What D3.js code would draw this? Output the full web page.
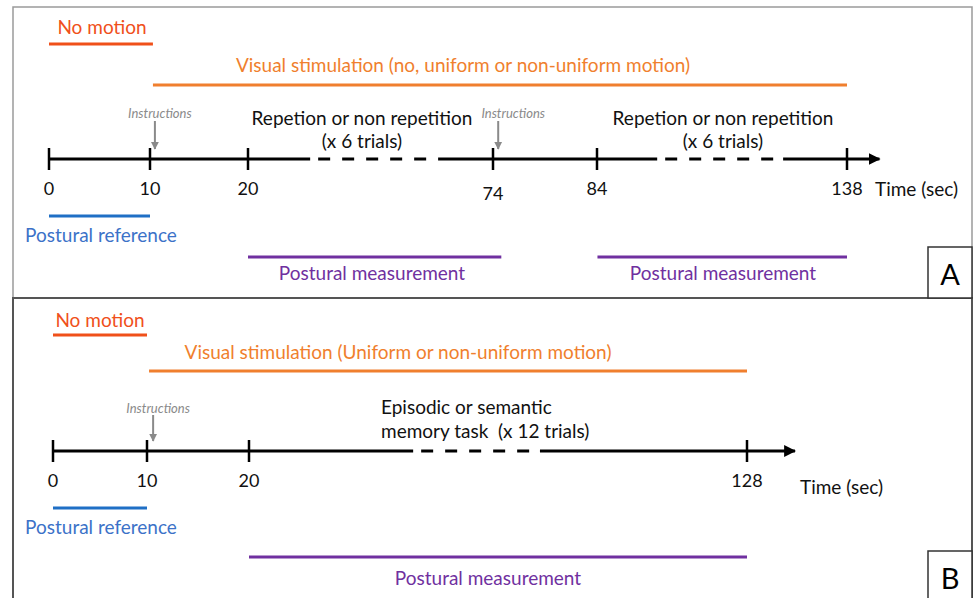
<!DOCTYPE html>
<html>
<head>
<meta charset="utf-8">
<script src="https://cdn.jsdelivr.net/npm/d3@7"></script>
<style>
html,body{margin:0;padding:0;background:#fff;}
svg{display:block;font-family:Lato, "Open Sans", sans-serif;}
</style>
</head>
<body>
<svg id="chart" width="974" height="598"></svg>
<script>
// ---------- DATA ----------
const panelLetters = ["A", "B"];

const ticksA = [0, 10, 20, 74, 84, 138];
const tickLabelsA = ["0", "10", "20", "74", "84", "138"];
const dashedA = [[33.7, 61.9], [97, 124.2]];
const axisEndA = 145;
const instructionsA = [10.5, 74.5];
const noMotionA = [0, 10.3];
const visualA = [10.3, 138];
const posturalRefA = [0, 10];
const posturalMeasA = [[20, 74.8], [84.1, 138]];
const visualLabelA = "Visual stimulation (no, uniform or non-uniform motion)";
const taskLabelsA = [["Repetion or non repetition", "(x 6 trials)"], ["Repetion or non repetition", "(x 6 trials)"]];

const ticksB = [0, 10, 20, 128];
const tickLabelsB = ["0", "10", "20", "128"];
const dashedB = [[55.6, 83.1]];
const axisEndB = 138.4;
const instructionsB = [10.6];
const noMotionB = [0, 10];
const visualB = [10.2, 128];
const posturalRefB = [0, 10];
const posturalMeasB = [[20, 128]];
const visualLabelB = "Visual stimulation (Uniform or non-uniform motion)";
const taskLabelsB = [["Episodic or semantic", "memory task  (x 12 trials)"]];

// ---------- STYLE ----------
const C = {
  noMotion: "#f0501a",
  visual: "#f07f2e",
  ref: "#1f6fc5",
  refText: "#3c72c8",
  meas: "#7030a0",
  instr: "#8a8a8a",
  axis: "#000"
};
const FS = 19;

const svg = d3.select("#chart");
svg.append("rect").attr("width", 974).attr("height", 598).attr("fill", "#fff");

const defs = svg.append("defs");
defs.append("marker").attr("id", "axArrow").attr("viewBox", "0 0 10 10")
  .attr("refX", 9).attr("refY", 5).attr("markerWidth", 4).attr("markerHeight", 4)
  .attr("markerUnits", "strokeWidth").attr("orient", "auto")
  .append("path").attr("d", "M0,0 L10,5 L0,10 Z").attr("fill", "#000");
defs.append("marker").attr("id", "grArrow").attr("viewBox", "0 0 10 10")
  .attr("refX", 9).attr("refY", 5).attr("markerWidth", 4).attr("markerHeight", 4.5)
  .attr("markerUnits", "strokeWidth").attr("orient", "auto")
  .append("path").attr("d", "M0,0 L10,5 L0,10 Z").attr("fill", C.instr);

// panel frames
svg.append("rect").attr("x", 13).attr("y", 7).attr("width", 959).attr("height", 291)
  .attr("fill", "none").attr("stroke", "#9a9a9a").attr("stroke-width", 1.5);
svg.append("rect").attr("x", 13).attr("y", 298).attr("width", 959).attr("height", 310)
  .attr("fill", "none").attr("stroke", "#555").attr("stroke-width", 2);

function drawPanel(cfg) {
  const g = svg.append("g");
  const x = d3.scaleLinear().domain(cfg.ticks).range(cfg.range);
  const L = cfg.layout;

  // axis line: solid parts + dashed parts
  const solids = [];
  let cur = cfg.ticks[0];
  cfg.dashed.forEach(d => { solids.push([cur, d[0]]); cur = d[1]; });
  g.selectAll(".solid").data(solids).join("line")
    .attr("x1", d => x(d[0])).attr("x2", d => x(d[1]))
    .attr("y1", L.axisY).attr("y2", L.axisY)
    .attr("stroke", C.axis).attr("stroke-width", 3);
  g.append("line").attr("x1", x(cur)).attr("x2", x(cfg.axisEnd))
    .attr("y1", L.axisY).attr("y2", L.axisY)
    .attr("stroke", C.axis).attr("stroke-width", 3).attr("marker-end", "url(#axArrow)");
  g.selectAll(".dash").data(cfg.dashed).join("line")
    .attr("x1", d => x(d[0]) + 8).attr("x2", d => x(d[1]))
    .attr("y1", L.axisY).attr("y2", L.axisY)
    .attr("stroke", C.axis).attr("stroke-width", 3).attr("stroke-dasharray", "12,12");

  // ticks
  g.selectAll(".tick").data(cfg.ticks).join("line")
    .attr("x1", d => x(d)).attr("x2", d => x(d))
    .attr("y1", L.axisY - 11).attr("y2", L.axisY + 11)
    .attr("stroke", C.axis).attr("stroke-width", 2.5);
  g.selectAll(".tl").data(cfg.ticks).join("text")
    .attr("x", d => x(d))
    .attr("y", d => L.tickLabelY + (cfg.lowered.includes(d) ? 5 : 0))
    .attr("text-anchor", "middle").attr("dominant-baseline", "central")
    .attr("font-size", 18).attr("fill", "#111")
    .text((d, i) => cfg.tickLabels[i]);
  g.append("text").attr("x", L.timeX).attr("y", L.timeY)
    .attr("dominant-baseline", "central").attr("font-size", FS).attr("fill", "#111")
    .text("Time (sec)");

  // instructions
  cfg.instructions.forEach((t, i) => {
    g.append("line").attr("x1", x(t)).attr("x2", x(t))
      .attr("y1", L.instrArrowTop).attr("y2", L.axisY - 10)
      .attr("stroke", C.instr).attr("stroke-width", 2).attr("marker-end", "url(#grArrow)");
    g.append("text").attr("x", x(t) + L.instrTextDx[i]).attr("y", L.instrTextY)
      .attr("text-anchor", "middle").attr("dominant-baseline", "central")
      .attr("font-size", 13).attr("font-style", "italic").attr("fill", C.instr)
      .text("Instructions");
  });

  // colored bars
  function bar(iv, y, col) {
    g.append("line").attr("x1", x(iv[0])).attr("x2", x(iv[1]))
      .attr("y1", y).attr("y2", y).attr("stroke", col).attr("stroke-width", 3);
  }
  bar(cfg.noMotion, L.noMotionY, C.noMotion);
  g.append("text").attr("x", L.noMotionTextX).attr("y", L.noMotionTextY)
    .attr("text-anchor", "middle").attr("dominant-baseline", "central")
    .attr("font-size", FS).attr("fill", C.noMotion).text("No motion");

  bar(cfg.visual, L.visualY, C.visual);
  g.append("text").attr("x", L.visualTextX).attr("y", L.visualTextY)
    .attr("text-anchor", "middle").attr("dominant-baseline", "central")
    .attr("font-size", FS).attr("fill", C.visual).text(cfg.visualLabel);

  bar(cfg.posturalRef, L.refY, C.ref);
  g.append("text").attr("x", L.refTextX).attr("y", L.refTextY)
    .attr("text-anchor", "middle").attr("dominant-baseline", "central")
    .attr("font-size", FS).attr("fill", C.refText).text("Postural reference");

  cfg.posturalMeas.forEach((iv, i) => {
    bar(iv, L.measY, C.meas);
    g.append("text").attr("x", L.measTextX[i]).attr("y", L.measTextY)
      .attr("text-anchor", "middle").attr("dominant-baseline", "central")
      .attr("font-size", FS).attr("fill", C.meas).text("Postural measurement");
  });

  // task labels
  cfg.taskLabels.forEach((lines, i) => {
    lines.forEach((s, j) => {
      g.append("text").attr("x", L.taskX[i]).attr("y", L.taskY[j])
        .attr("text-anchor", L.taskAnchor).attr("dominant-baseline", "central")
        .attr("font-size", FS).attr("fill", "#111")
        .style("white-space", "pre").attr("xml:space", "preserve").text(s);
    });
  });

  // letter box
  g.append("rect").attr("x", 928).attr("y", L.boxY).attr("width", 44).attr("height", L.boxH)
    .attr("fill", "#fff").attr("stroke", "#333").attr("stroke-width", 1.5);
  g.append("text").attr("x", 950).attr("y", L.boxTextY)
    .attr("text-anchor", "middle").attr("dominant-baseline", "central")
    .attr("font-size", 29).attr("fill", "#000").text(cfg.letter);
}

drawPanel({
  letter: panelLetters[0], ticks: ticksA, tickLabels: tickLabelsA,
  range: [49, 150, 248, 493, 597, 847], dashed: dashedA, axisEnd: axisEndA,
  instructions: instructionsA, noMotion: noMotionA, visual: visualA,
  posturalRef: posturalRefA, posturalMeas: posturalMeasA,
  visualLabel: visualLabelA, taskLabels: taskLabelsA, lowered: [74],
  layout: {
    axisY: 159, tickLabelY: 188, timeX: 875, timeY: 188,
    instrArrowTop: 121, instrTextY: 113, instrTextDx: [5, 15],
    noMotionY: 44, noMotionTextX: 102, noMotionTextY: 26,
    visualY: 85, visualTextX: 463, visualTextY: 64,
    refY: 216, refTextX: 101, refTextY: 234,
    measY: 257, measTextX: [372, 723], measTextY: 272,
    taskX: [362, 723], taskY: [117, 140], taskAnchor: "middle",
    boxY: 247, boxH: 51, boxTextY: 273
  }
});

drawPanel({
  letter: panelLetters[1], ticks: ticksB, tickLabels: tickLabelsB,
  range: [53, 147, 249, 747], dashed: dashedB, axisEnd: axisEndB,
  instructions: instructionsB, noMotion: noMotionB, visual: visualB,
  posturalRef: posturalRefB, posturalMeas: posturalMeasB,
  visualLabel: visualLabelB, taskLabels: taskLabelsB, lowered: [],
  layout: {
    axisY: 451, tickLabelY: 480, timeX: 800, timeY: 486,
    instrArrowTop: 415, instrTextY: 408, instrTextDx: [5],
    noMotionY: 335, noMotionTextX: 100, noMotionTextY: 319,
    visualY: 371, visualTextX: 398, visualTextY: 351,
    refY: 508, refTextX: 101, refTextY: 526,
    measY: 557, measTextX: [488], measTextY: 577,
    taskX: [381], taskY: [406, 430], taskAnchor: "start",
    boxY: 551, boxH: 60, boxTextY: 577
  }
});
</script>
</body>
</html>
